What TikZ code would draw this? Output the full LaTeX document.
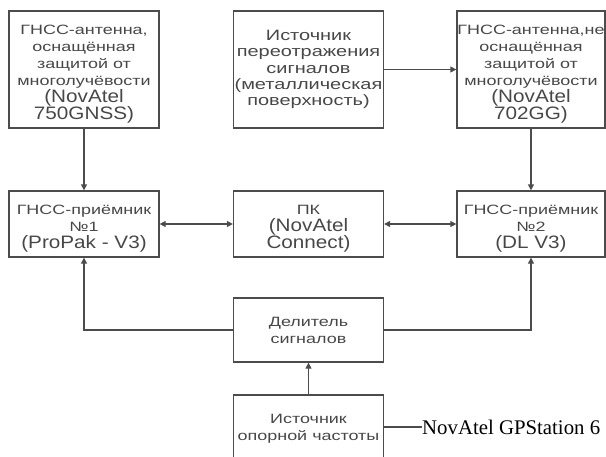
\documentclass[tikz,border=0pt]{standalone}
\usepackage{fontspec}
\setmainfont{Liberation Sans}
\newfontfamily\cyrf[FakeStretch=1.33]{Liberation Sans}
\newfontfamily\latf[FakeStretch=1.15]{Liberation Sans}
\newfontfamily\serf{Liberation Serif}
\newcommand\cyA{\fontsize{13.5}{17}\cyrf}
\newcommand\cyB{\fontsize{15}{16.2}\cyrf}
\newcommand\la{\fontsize{18}{17}\latf}
\newcommand\dn{\rule{0pt}{18pt}}
\usetikzlibrary{arrows.meta}
\begin{document}
\begin{tikzpicture}[x=1pt,y=-1pt,
  box/.style={draw=black!70,line width=1.3pt,rectangle,inner sep=0pt,
    align=center,text=black!72,font=\cyA},
  bigbox/.style={box,minimum width=150pt,minimum height=117pt},
  midbox/.style={box,minimum width=150pt,minimum height=66pt},
  conn/.style={draw=black!70,line width=1.3pt},
  tip/.tip={Triangle[length=6pt,width=6pt]}
]
\useasboundingbox (0,0) rectangle (606,456);
\node[bigbox] (ga) at (84,69.5) {\dn ГНСС-антенна,\\оснащённая\\защитой от\\многолучёвости\\{\la (NovAtel}\\{\la 750GNSS)}};
\node[bigbox,font=\cyB] (src) at (308.5,69.5) {Источник\\переотражения\\сигналов\\(металлическая\\поверхность)};
\node[bigbox,minimum width=148pt] (gc) at (531,69.5) {\dn ГНСС-антенна,не\\оснащённая\\защитой от\\многолучёвости\\{\la (NovAtel}\\{\la 702GG)}};
\node[midbox] (gr1) at (84,224) {\dn ГНСС-приёмник\\№1\\{\la (ProPak - V3)}};
\node[midbox] (pc) at (308.5,224) {\dn ПК\\{\la (NovAtel}\\{\la Connect)}};
\node[midbox,minimum width=148pt] (gr2) at (531,224) {\dn ГНСС-приёмник\\№2\\{\la (DL V3)}};
\node[box,minimum width=150pt,minimum height=64pt] (div) at (308.5,330) {Делитель\\сигналов};
\node[box,minimum width=150pt,minimum height=68pt] (ref) at (308.5,429) {Источник\\опорной частоты};
\node[anchor=west,inner sep=0pt,font=\serf\fontsize{20.8}{22}\selectfont] (lbl) at (422,427) {NovAtel GPStation 6};
\draw[conn,-tip] (ga) -- (gr1);
\draw[conn,-tip] (src) -- (gc);
\draw[conn,-tip] (gc) -- (gr2);
\draw[conn,tip-tip] (gr1) -- (pc);
\draw[conn,tip-tip] (pc) -- (gr2);
\draw[conn,-tip] (div.west) -| (gr1.south);
\draw[conn,-tip] (div.east) -| (gr2.south);
\draw[conn,-tip] (ref) -- (div);
\draw[conn] (ref.east |- lbl.west) -- (lbl.west);
\end{tikzpicture}
\end{document}
